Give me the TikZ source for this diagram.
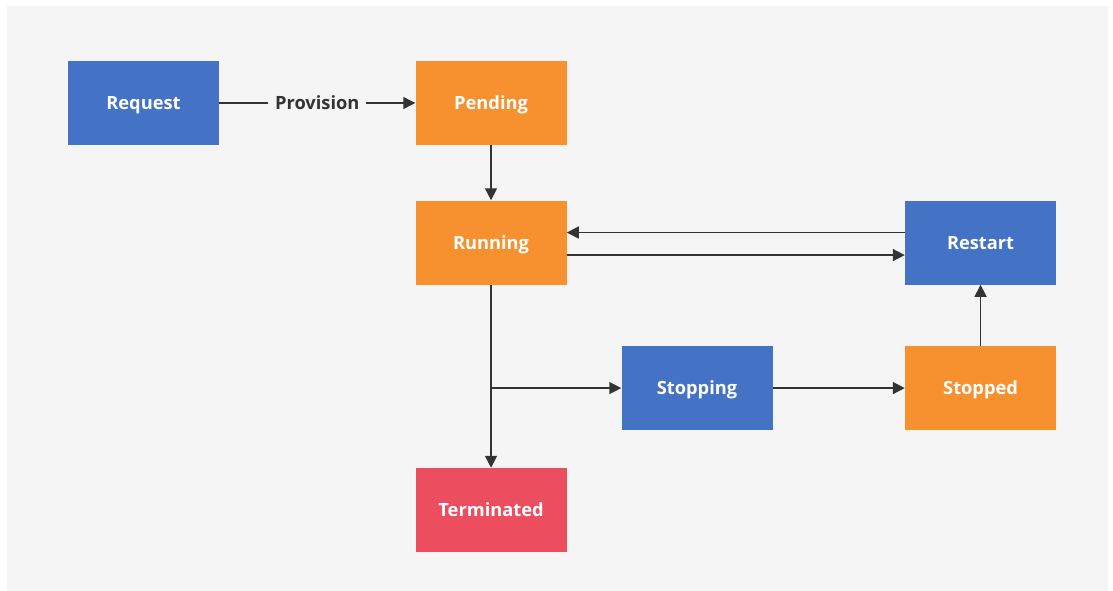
\documentclass[tikz,border=0pt]{standalone}
\usepackage{fontspec}
\setmainfont{Open Sans}
\usetikzlibrary{positioning,arrows.meta}

\definecolor{bggray}{HTML}{F5F5F5}
\definecolor{stblue}{HTML}{4472C4}
\definecolor{storange}{HTML}{F7912F}
\definecolor{stred}{HTML}{EC4D5F}
\definecolor{linegray}{HTML}{333333}

\begin{document}
\begin{tikzpicture}[>={Triangle[length=9pt,width=9pt]},
	main node/.style = {rectangle, minimum width = 113.25pt, minimum height = 63pt, inner sep = 0pt,
		text = white, text height = 9.8pt, text depth = 0pt, font = \bfseries\fontsize{13.7}{16}\selectfont},
	flow/.style = {->, draw = linegray, line width = 1.1pt}]
	
	\useasboundingbox (0,0) rectangle (834.75pt,-443.25pt);
	\fill[bggray] (5.25pt,-4.5pt) rectangle (831pt,-443.25pt);
	
	\node[main node,fill=stblue] (1) at (107.625pt,-77.25pt) {Request};
	\node[main node,fill=storange] [right = 147pt of 1] (2) {Pending};
	\node[main node,fill=storange] [below = 41.25pt of 2] (3) {Running};
	\node[main node,fill=stblue] [right = 253.5pt of 3] (4) {Restart};
	\node[main node,fill=storange] [below = 45.75pt of 4] (6) {Stopped};
	\node[main node,fill=stblue] [left = 99pt of 6] (5) {Stopping};
	\node[main node,fill=stred] [below = 137.25pt of 3] (7) {Terminated};
	\coordinate (8) at (3.south |- 5.west);
	
	\path[flow] (1) -- node[fill=bggray, text=linegray, text height=9.8pt, text depth=0pt, font=\bfseries\fontsize{13.7}{16}\selectfont, inner xsep=5pt, inner ysep=3pt] {Provision} (2);
	\path[flow] (2) -- (3);
	\path[flow] ([yshift=7.5pt]4.west) -- ([yshift=7.5pt]3.east);
	\path[flow] ([yshift=-9.4pt]3.east) -- ([yshift=-9.4pt]4.west);
	\path[flow] (3) -- (7);
	\path[flow] (8) -- (5);
	\path[flow] (5) -- (6);
	\path[flow] (6) -- (4);
	
\end{tikzpicture}
\end{document}
